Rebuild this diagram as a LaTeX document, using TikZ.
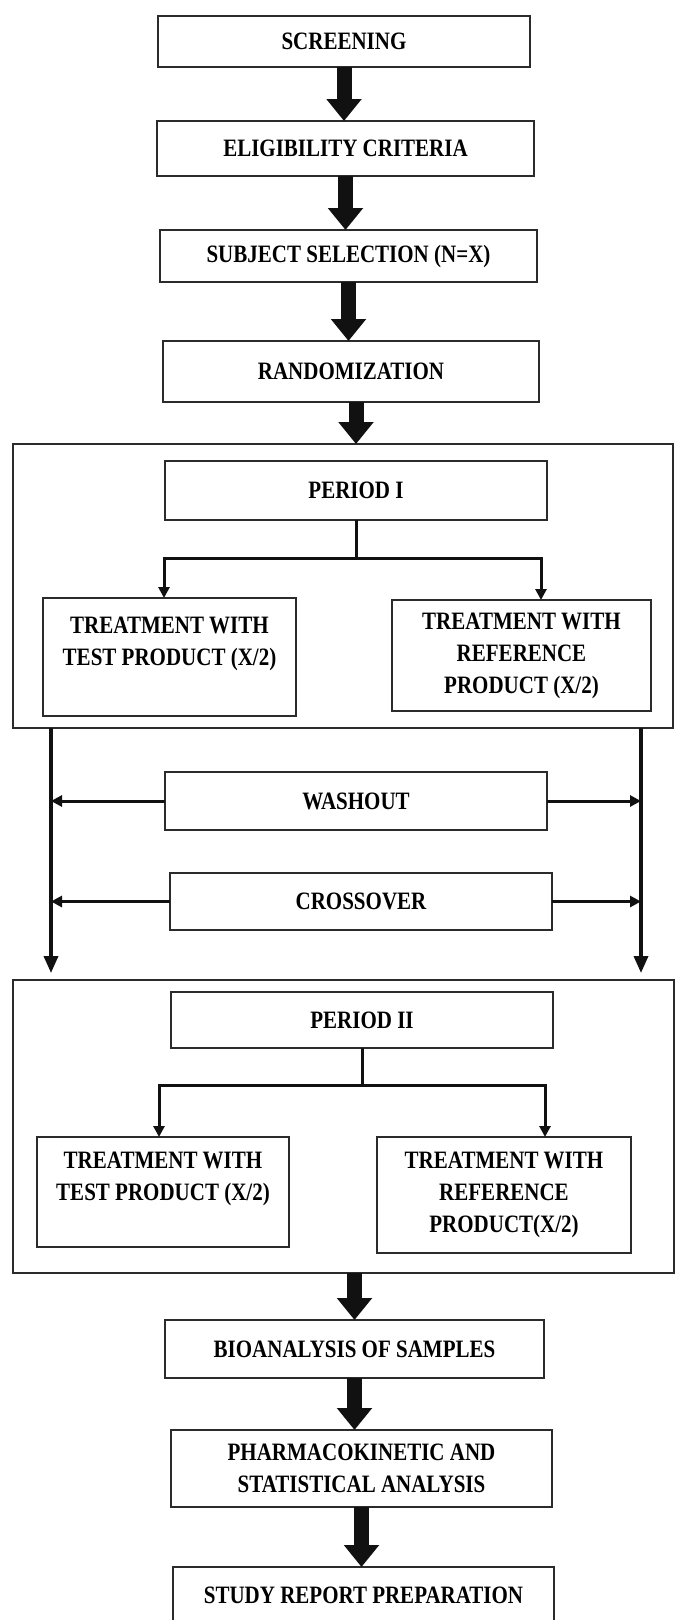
\documentclass[tikz,border=0pt]{standalone}
\usepackage{fontspec}
\setmainfont{Liberation Serif}
\newfontfamily\boxfont{Liberation Serif}[FakeStretch=0.84]
\usetikzlibrary{arrows.meta,calc,fit,positioning}
\definecolor{Ink}{HTML}{111111}
\definecolor{Frame}{HTML}{2B2B2B}
\tikzset{
  stage/.style={
    draw=Frame, line width=2pt, fill=white,
    minimum width=376pt, minimum height=55pt, inner sep=2pt, outer sep=0pt,
    align=center, font=\boxfont\fontsize{25}{32}\selectfont\bfseries
  },
  arm/.style={stage, minimum width=254pt, minimum height=114pt},
  block/.style={draw=Frame, line width=2pt, inner sep=0pt, outer sep=0pt},
  bigflow/.style={-{Triangle[width=34pt,length=22pt]}, line width=15pt, draw=Ink},
  flow/.style={-{Triangle[width=11pt,length=11pt]}, line width=3pt, draw=Ink},
  sideflow/.style={-{Triangle[width=14pt,length=17pt]}, line width=3.5pt, draw=Ink}
}

\begin{document}
\begin{tikzpicture}[x=1pt, y=-1pt, node distance=54pt]
    \useasboundingbox (0,0) rectangle (675,1620);
    \node[stage,minimum width=372pt,minimum height=51pt] (scr) at (344,41.5) {SCREENING};
    \node[stage,below=of scr,xshift=1.5pt,minimum width=377pt] (elig) {ELIGIBILITY CRITERIA};
    \node[stage,below=of elig,xshift=3pt,minimum width=377pt,minimum height=52pt] (subj) {SUBJECT SELECTION (N=X)};
    \node[stage,below=59pt of subj,xshift=2.5pt,minimum height=61pt] (rand) {RANDOMIZATION};
    % period I
    \node[stage,below=59pt of rand,xshift=5pt,minimum width=382pt,minimum height=59pt] (per1) {PERIOD I};
    \node[arm,below=78pt of per1,xshift=-186.5pt,minimum width=253pt,minimum height=118pt] (tl1) {TREATMENT WITH\\TEST PRODUCT (X/2)\\\mbox{}};
    \node[arm,below=80pt of per1,xshift=165.5pt,minimum width=259pt,minimum height=111pt] (tr1) {TREATMENT WITH\\REFERENCE\\PRODUCT (X/2)};
    \node[block,fit={(13,444) (673,728)}] (blk1) {};
    \node[stage,below=252pt of per1,minimum width=382pt,minimum height=58pt] (wash) {WASHOUT};
    \node[stage,below=43pt of wash,xshift=5pt,minimum width=382pt,minimum height=57pt] (cross) {CROSSOVER};
    % period II
    \node[stage,below=62pt of cross,xshift=1pt,minimum width=382pt,minimum height=56pt] (per2) {PERIOD II};
    \node[arm,below=89pt of per2,xshift=-199pt,minimum width=252pt,minimum height=110pt] (tl2) {TREATMENT WITH\\TEST PRODUCT (X/2)\\\mbox{}};
    \node[arm,below=89pt of per2,xshift=142pt,minimum width=254pt,minimum height=116pt] (tr2) {TREATMENT WITH\\REFERENCE\\PRODUCT(X/2)};
    \node[block,fit={(13,980) (674,1273)}] (blk2) {};
    \node[stage,below=272pt of per2,xshift=-7.5pt,minimum width=379pt,minimum height=58pt] (bio) {BIOANALYSIS OF SAMPLES};
    \node[stage,below=52pt of bio,xshift=7pt,minimum width=381pt,minimum height=77pt] (pk) {PHARMACOKINETIC AND\\STATISTICAL ANALYSIS};
    \node[stage,below=60pt of pk,xshift=2pt,minimum width=381pt,minimum height=56pt] (rep) {STUDY REPORT PREPARATION};
    \coordinate (fork1) at ($(per1.south)+(0,38)$);
    \coordinate (fork2) at ($(per2.south)+(0,37)$);
    \coordinate (sideL) at (51,973);
    \coordinate (sideR) at (641,973);
    \draw[bigflow] (scr.south)--(scr.south|-elig.north);
    \draw[bigflow] (elig.south)--(elig.south|-subj.north);
    \draw[bigflow] (subj.south)--(subj.south|-rand.north);
    \draw[bigflow] (per1.north|-rand.south)--(per1.north|-blk1.north);
    \draw[flow] (per1.south)--(fork1)-|([xshift=-5.5pt]tl1.north);
    \draw[flow] (fork1)-|([xshift=19.5pt]tr1.north);
    \draw[sideflow] (sideL|-blk1.south)--(sideL);
    \draw[sideflow] (sideR|-blk1.south)--(sideR);
    \draw[flow] (wash.west)--(wash.west-|sideL);
    \draw[flow] (wash.east)--(wash.east-|sideR);
    \draw[flow] (cross.west)--(cross.west-|sideL);
    \draw[flow] (cross.east)--(cross.east-|sideR);
    \draw[flow] (per2.south)--(fork2)-|([xshift=-4pt]tl2.north);
    \draw[flow] (fork2)-|([xshift=41pt]tr2.north);
    \draw[bigflow] (bio.north|-blk2.south)--(bio.north);
    \draw[bigflow] (bio.south)--(bio.south|-pk.north);
    \draw[bigflow] (pk.south)--(pk.south|-rep.north);
  \end{tikzpicture}
\end{document}
